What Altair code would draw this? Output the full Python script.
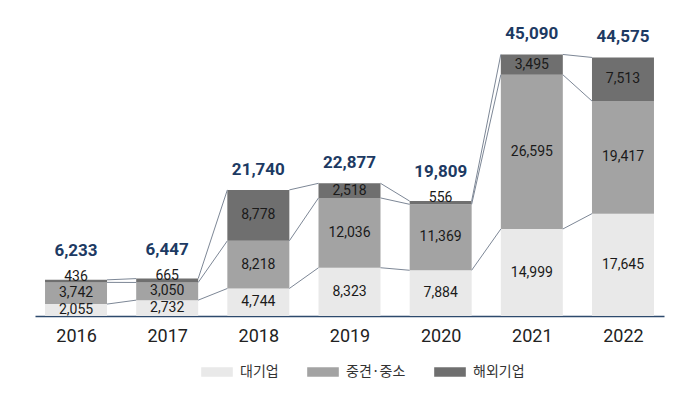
import altair as alt
import pandas as pd

years = [2016, 2017, 2018, 2019, 2020, 2021, 2022]
large = [2055, 2732, 4744, 8323, 7884, 14999, 17645]
mid = [3742, 3050, 8218, 12036, 11369, 26595, 19417]
foreign = [436, 665, 8778, 2518, 556, 3495, 7513]
totals = [6233, 6447, 21740, 22877, 19809, 45090, 44575]
cats = ["대기업", "중견·중소", "해외기업"]
colors = ["#e9e9e9", "#a3a3a3", "#6f6f6f"]

HW = 0.34
FONT = "Liberation Sans Narrow, Roboto, sans-serif"

rows = []
for i, yr in enumerate(years):
    base = 0
    for c, vals in zip(cats, [large, mid, foreign]):
        v = vals[i]
        rows.append({"year": yr, "cat": c, "value": v, "y0": base, "y1": base + v,
                     "order": cats.index(c)})
        base += v
seg = pd.DataFrame(rows)

links = []
for i in range(len(years) - 1):
    c0 = [large[i], large[i] + mid[i], large[i] + mid[i] + foreign[i]]
    c1 = [large[i + 1], large[i + 1] + mid[i + 1], large[i + 1] + mid[i + 1] + foreign[i + 1]]
    for a, b in zip(c0, c1):
        links.append({"xa": years[i], "xb": years[i + 1], "ya": a, "yb": b})
lk = pd.DataFrame(links)

tot = pd.DataFrame({"year": years, "total": totals, "top": foreign})

xscale = alt.Scale(domain=[2015.55, 2022.45], nice=False, zero=False)
yscale = alt.Scale(domain=[0, 53100], nice=False)

bars = alt.Chart(seg).transform_calculate(
    xl=f"datum.year - {HW}", xr=f"datum.year + {HW}"
).mark_rect().encode(
    x=alt.X("xl:Q", scale=xscale, title=None,
            axis=alt.Axis(values=years, format="d", grid=False, ticks=False,
                          domainColor="#2d4a6d", domainWidth=1.5,
                          labelFontSize=18, labelFont=FONT, labelColor="#222222",
                          labelFontWeight="normal", labelPadding=11)),
    x2="xr:Q",
    y=alt.Y("y0:Q", scale=yscale, axis=None),
    y2="y1:Q",
    color=alt.Color("cat:N", scale=alt.Scale(domain=cats, range=colors), title=None,
                    legend=alt.Legend(orient="none", direction="horizontal",
                                      legendX=166, legendY=348,
                                      symbolType="M-1,-0.3H1V0.3H-1Z", symbolSize=1000,
                                      symbolStrokeWidth=0, symbolOpacity=1,
                                      labelFont="Noto Sans CJK KR", labelFontSize=14,
                                      labelColor="#333333", labelOffset=7,
                                      columnPadding=28, padding=0)),
)

lines = alt.Chart(lk).transform_calculate(
    x1=f"datum.xa + {HW}", x2=f"datum.xb - {HW}"
).mark_rule(color="#7d8796", strokeWidth=1).encode(
    x=alt.X("x1:Q", scale=xscale),
    x2="x2:Q",
    y=alt.Y("ya:Q", scale=yscale),
    y2="yb:Q",
)

seg_labels = alt.Chart(seg).transform_filter("datum.value >= 1000").transform_calculate(
    ym="(datum.y0 + datum.y1) / 2"
).mark_text(font=FONT, fontSize=14, color="#1a1a1a", baseline="middle").encode(
    x=alt.X("year:Q", scale=xscale),
    y=alt.Y("ym:Q", scale=yscale),
    text=alt.Text("value:Q", format=","),
)

small_labels = alt.Chart(seg).transform_filter("datum.value < 1000").mark_text(
    font=FONT, fontSize=14, color="#1a1a1a", baseline="middle", dy=-3
).encode(
    x=alt.X("year:Q", scale=xscale),
    y=alt.Y("y1:Q", scale=yscale),
    text=alt.Text("value:Q", format=","),
)

tot_big = alt.Chart(tot).transform_filter("datum.top >= 1000").mark_text(
    font=FONT, fontSize=17, fontWeight="bold", color="#1d3a63", baseline="middle", dy=-20
).encode(
    x=alt.X("year:Q", scale=xscale),
    y=alt.Y("total:Q", scale=yscale),
    text=alt.Text("total:Q", format=","),
)

tot_small = alt.Chart(tot).transform_filter("datum.top < 1000").mark_text(
    font=FONT, fontSize=17, fontWeight="bold", color="#1d3a63", baseline="middle", dy=-29
).encode(
    x=alt.X("year:Q", scale=xscale),
    y=alt.Y("total:Q", scale=yscale),
    text=alt.Text("total:Q", format=","),
)

chart = alt.layer(bars, lines, seg_labels, small_labels, tot_big, tot_small).properties(
    width=629, height=308,
    padding={"left": 27, "top": 0, "right": 5, "bottom": 5},
    background="white",
).configure_view(stroke=None)

chart.save("out.html", embed_options={"renderer": "svg", "actions": False})
